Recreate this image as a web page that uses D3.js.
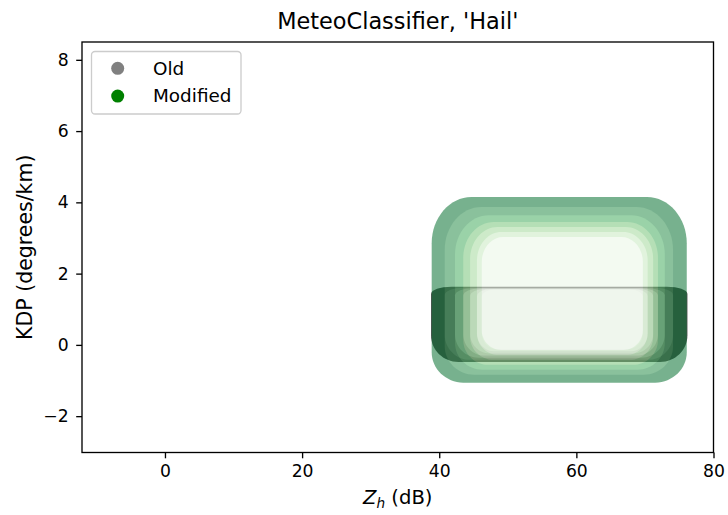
<!DOCTYPE html>
<html>
<head>
<meta charset="utf-8">
<script src="https://cdn.jsdelivr.net/npm/d3@7"></script>
<style>
  body { margin: 0; background: #fff; }
  text { font-family: "DejaVu Sans", sans-serif; fill: #000; }
</style>
</head>
<body>
<div id="chart"></div>
<script>
var width = 728;
var height = 515;
var margin = {left: 82, right: 14.5, top: 42, bottom: 62.5};

// membership levels, outer (darkest) to inner (lightest)
// "Modified" classifier regions
var modX0 = [38.9, 40.8, 42.3, 43.5, 44.5, 45.5, 46.2];
var modX1 = [76.1, 74.1, 72.9, 71.9, 71.2, 70.4, 69.7];
var modY0 = [-1.06, -0.84, -0.70, -0.56, -0.42, -0.28, -0.14];
var modY1 = [4.15, 3.87, 3.64, 3.45, 3.31, 3.17, 3.03];
var modColors = ["#006d2c", "#238b45", "#41ab5d", "#74c476", "#a1d99b", "#c7e9c0", "#e9f6e5"];

// "Old" classifier regions
var oldX0 = [38.8, 40.8, 42.3, 43.5, 44.5, 45.5, 46.2];
var oldX1 = [76.2, 74.1, 72.9, 71.9, 71.2, 70.4, 69.7];
var oldY0 = [-0.48, -0.42, -0.36, -0.30, -0.24, -0.18, -0.12];
var oldY1 = [1.63, 1.60, 1.59, 1.58, 1.57, 1.56, 1.55];
var oldColors = ["#525252", "#6e6e6e", "#969696", "#bdbdbd", "#d9d9d9", "#eeeeee", "#f7f7f7"];

var xTicks = [0, 20, 40, 60, 80];
var yTicks = [-2, 0, 2, 4, 6, 8];
var legendLabels = ["Old", "Modified"];
var legendColors = ["#808080", "#008000"];

var svg = d3.select("#chart").append("svg")
  .attr("width", width)
  .attr("height", height);

var xScale = d3.scaleLinear().domain([-12.1, 80]).range([margin.left, width - margin.right]);
var yScale = d3.scaleLinear().domain([-3.02, 8.5]).range([height - margin.bottom, margin.top]);

// rounded box with separate top and bottom corner radii (data units)
function roundBox(x0, x1, y0, y1, rxT, ryT, rxB, ryB) {
  var l = xScale(x0), r = xScale(x1), t = yScale(y1), b = yScale(y0);
  var ax = xScale(rxT) - xScale(0), ay = yScale(0) - yScale(ryT);
  var bx = xScale(rxB) - xScale(0), by = yScale(0) - yScale(ryB);
  var p = d3.path();
  p.moveTo(l + ax, t);
  p.lineTo(r - ax, t);
  p.bezierCurveTo(r - ax * 0.45, t, r, t + ay * 0.45, r, t + ay);
  p.lineTo(r, b - by);
  p.bezierCurveTo(r, b - by * 0.45, r - bx * 0.45, b, r - bx, b);
  p.lineTo(l + bx, b);
  p.bezierCurveTo(l + bx * 0.45, b, l, b - by * 0.45, l, b - by);
  p.lineTo(l, t + ay);
  p.bezierCurveTo(l, t + ay * 0.45, l + ax * 0.45, t, l + ax, t);
  p.closePath();
  return p.toString();
}

var oldData = oldX0.map(function(d, i) {
  return {x0: d, x1: oldX1[i], y0: oldY0[i], y1: oldY1[i], c: oldColors[i], i: i};
});
var modData = modX0.map(function(d, i) {
  return {x0: d, x1: modX1[i], y0: modY0[i], y1: modY1[i], c: modColors[i], i: i};
});

var gOld = svg.append("g");
gOld.selectAll("path")
  .data(oldData)
  .enter().append("path")
  .attr("d", function(d) { return roundBox(d.x0, d.x1, d.y0, d.y1, 3 - d.i * 0.2, 0.2, 4 - d.i * 0.3, 0.75 - d.i * 0.05); })
  .attr("fill", function(d) { return d.c; });

var gMod = svg.append("g").attr("opacity", 0.53);
gMod.selectAll("path")
  .data(modData)
  .enter().append("path")
  .attr("d", function(d) { return roundBox(d.x0, d.x1, d.y0, d.y1, 5.8 - d.i * 0.45, 1.3 - d.i * 0.1, 4.6 - d.i * 0.3, 0.85 - d.i * 0.05); })
  .attr("fill", function(d) { return d.c; });

// axes
var xAxis = svg.append("g")
  .attr("transform", "translate(0," + (height - margin.bottom) + ")")
  .call(d3.axisBottom(xScale).tickValues(xTicks).tickSize(5.8).tickPadding(6).tickFormat(d3.format("d")));
var yAxis = svg.append("g")
  .attr("transform", "translate(" + margin.left + ",0)")
  .call(d3.axisLeft(yScale).tickValues(yTicks).tickSize(5.8).tickPadding(7.5).tickFormat(d3.format("d")));

[xAxis, yAxis].forEach(function(a) {
  a.select(".domain").remove();
  a.selectAll("line").attr("stroke", "#000").attr("stroke-width", 1.33);
  a.selectAll("text").attr("font-size", "17.2px").attr("font-family", "DejaVu Sans").attr("fill", "#000");
});

// frame
svg.append("rect")
  .attr("x", margin.left)
  .attr("y", margin.top)
  .attr("width", width - margin.left - margin.right)
  .attr("height", height - margin.top - margin.bottom)
  .attr("fill", "none")
  .attr("stroke", "#000")
  .attr("stroke-width", 1.33);

// title and labels
svg.append("text")
  .attr("x", (margin.left + width - margin.right) / 2)
  .attr("y", 29)
  .attr("text-anchor", "middle")
  .style("font-size", "22.4px")
  .text("MeteoClassifier, 'Hail'");

var xl = svg.append("text")
  .attr("x", (margin.left + width - margin.right) / 2)
  .attr("y", 504)
  .attr("text-anchor", "middle")
  .style("font-size", "19.6px");
xl.append("tspan").attr("font-style", "italic").text("Z");
xl.append("tspan").attr("font-style", "italic").attr("font-size", "13.7px").attr("dy", "3.5").text("h");
xl.append("tspan").attr("dy", "-3.5").text(" (dB)");

svg.append("text")
  .attr("transform", "translate(32," + ((margin.top + height - margin.bottom) / 2) + ") rotate(-90)")
  .attr("text-anchor", "middle")
  .style("font-size", "20.5px")
  .text("KDP (degrees/km)");

// legend
var legend = svg.append("g");
legend.append("rect")
  .attr("x", 91.5)
  .attr("y", 51.5)
  .attr("width", 149.5)
  .attr("height", 62.5)
  .attr("rx", 3.5)
  .attr("fill", "#fff")
  .attr("fill-opacity", 0.8)
  .attr("stroke", "#cccccc")
  .attr("stroke-width", 1.33);

var items = legend.selectAll(".legend")
  .data(legendLabels)
  .enter().append("g")
  .attr("class", "legend")
  .attr("transform", function(d, i) { return "translate(0," + (68.3 + i * 27.8) + ")"; });

items.append("circle")
  .attr("cx", 117.7)
  .attr("cy", 0)
  .attr("r", 6.5)
  .attr("fill", function(d, i) { return legendColors[i]; });

items.append("text")
  .attr("x", 153)
  .attr("y", 6.3)
  .style("font-size", "18.4px")
  .text(function(d) { return d; });
</script>
</body>
</html>
